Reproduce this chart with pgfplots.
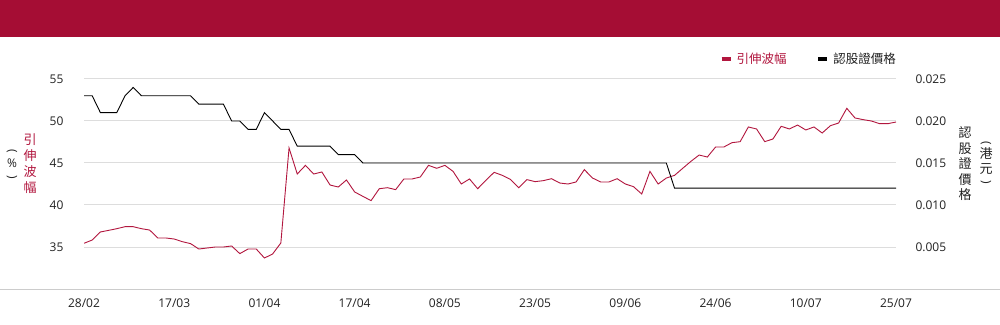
\documentclass[border=0pt]{standalone}
\usepackage{pgfplots}
\pgfplotsset{compat=1.18}
\usepackage{fontspec}
\setmainfont{Open Sans}
\newfontfamily\cjk{Noto Sans CJK TC}
\definecolor{banner}{RGB}{165,13,52}
\definecolor{vol}{RGB}{178,22,62}
\definecolor{gridc}{RGB}{221,221,221}
\definecolor{axisc}{RGB}{204,204,204}
\definecolor{txt}{RGB}{34,34,34}
\newcommand{\vopen}{\rotatebox[origin=c]{-90}{\rmfamily(}}
\newcommand{\vclose}{\rotatebox[origin=c]{-90}{\rmfamily)}}
\begin{document}
\begin{tikzpicture}
\useasboundingbox (0pt,0pt) rectangle (1000pt,324pt);
\fill[white] (0pt,0pt) rectangle (1000pt,324pt);
\fill[banner] (0pt,287pt) rectangle (1000pt,324pt);
\begin{axis}[
  at={(84pt,35pt)}, anchor=south west, scale only axis,
  width=812pt, height=210pt,
  xmin=0, xmax=99, ymin=30, ymax=55,
  axis line style={draw=none}, major tick length=0pt,
  xtick={0,11,...,99},
  xticklabels={28/02,17/03,01/04,17/04,08/05,23/05,09/06,24/06,10/07,25/07},
  ytick={35,40,45,50,55},
  ymajorgrids, grid style={gridc, line width=1pt},
  tick label style={font=\fontsize{12}{14}\selectfont, text=txt},
  /pgf/number format/assume math mode=true,
  xticklabel style={yshift=-6pt},
  yticklabel style={xshift=-17pt},
]
\addplot[vol, line width=0.9pt] coordinates {
(0,35.44) (1,35.83) (2,36.79) (3,36.98) (4,37.18) (5,37.42) (6,37.42) (7,37.18) (8,37.02) (9,36.07)
(10,36.07) (11,35.95) (12,35.63) (13,35.40) (14,34.76) (15,34.88) (16,35.00) (17,35.00) (18,35.12) (19,34.21)
(20,34.76) (21,34.76) (22,33.69) (23,34.17) (24,35.48) (25,46.79) (26,43.69) (27,44.72) (28,43.69) (29,43.93)
(30,42.38) (31,42.14) (32,42.98) (33,41.55) (34,41.03) (35,40.52) (36,41.94) (37,42.06) (38,41.83) (39,43.10)
(40,43.10) (41,43.33) (42,44.72) (43,44.37) (44,44.72) (45,44.00) (46,42.50) (47,43.10) (48,41.94) (49,42.94)
(50,43.89) (51,43.53) (52,43.04) (53,42.06) (54,43.02) (55,42.78) (56,42.90) (57,43.13) (58,42.62) (59,42.50)
(60,42.74) (61,44.21) (62,43.21) (63,42.74) (64,42.74) (65,43.13) (66,42.50) (67,42.18) (68,41.31) (69,44.00)
(70,42.50) (71,43.21) (72,43.53) (73,44.37) (74,45.20) (75,45.95) (76,45.71) (77,46.90) (78,46.90) (79,47.42)
(80,47.54) (81,49.29) (82,49.05) (83,47.54) (84,47.86) (85,49.37) (86,49.05) (87,49.52) (88,48.93) (89,49.29)
(90,48.57) (91,49.44) (92,49.76) (93,51.51) (94,50.36) (95,50.16) (96,50.00) (97,49.68) (98,49.68) (99,49.88)
};
\end{axis}
\begin{axis}[
  at={(84pt,35pt)}, anchor=south west, scale only axis,
  width=812pt, height=210pt,
  xmin=0, xmax=99, ymin=0, ymax=0.025,
  axis line style={draw=none}, major tick length=0pt,
  xtick=\empty,
  ytick={0.005,0.01,0.015,0.02,0.025},
  yticklabel pos=right,
  scaled y ticks=false,
  yticklabel style={/pgf/number format/.cd, fixed, fixed zerofill, precision=3, /tikz/.cd, xshift=16pt},
  tick label style={font=\fontsize{12}{14}\selectfont, text=txt},
  /pgf/number format/assume math mode=true,
  legend columns=2,
  legend style={draw=none, fill=none, at={(1,1)}, anchor=south east, yshift=12pt, xshift=2pt,
    font=\cjk\fontsize{12.5}{14}\selectfont, inner sep=0pt,
    /tikz/every even column/.append style={column sep=28pt}},
  legend image code/.code={\draw[#1, line width=3.5pt] (0pt,0pt) -- (9pt,0pt); \path[draw=none] (0pt,0pt) -- (13pt,0pt);},
]
\addlegendimage{vol}
\addlegendentry{\textcolor{vol}{引伸波幅}}
\addplot[black, line width=0.9pt] coordinates {
(0,0.023) (1,0.023) (2,0.021) (3,0.021) (4,0.021) (5,0.023) (6,0.024) (7,0.023) (8,0.023) (9,0.023)
(10,0.023) (11,0.023) (12,0.023) (13,0.023) (14,0.022) (15,0.022) (16,0.022) (17,0.022) (18,0.020) (19,0.020)
(20,0.019) (21,0.019) (22,0.021) (23,0.020) (24,0.019) (25,0.019) (26,0.017) (27,0.017) (28,0.017) (29,0.017)
(30,0.017) (31,0.016) (32,0.016) (33,0.016) (34,0.015) (35,0.015) (36,0.015) (37,0.015) (38,0.015) (39,0.015)
(40,0.015) (41,0.015) (42,0.015) (43,0.015) (44,0.015) (45,0.015) (46,0.015) (47,0.015) (48,0.015) (49,0.015)
(50,0.015) (51,0.015) (52,0.015) (53,0.015) (54,0.015) (55,0.015) (56,0.015) (57,0.015) (58,0.015) (59,0.015)
(60,0.015) (61,0.015) (62,0.015) (63,0.015) (64,0.015) (65,0.015) (66,0.015) (67,0.015) (68,0.015) (69,0.015)
(70,0.015) (71,0.015) (72,0.012) (73,0.012) (74,0.012) (75,0.012) (76,0.012) (77,0.012) (78,0.012) (79,0.012)
(80,0.012) (81,0.012) (82,0.012) (83,0.012) (84,0.012) (85,0.012) (86,0.012) (87,0.012) (88,0.012) (89,0.012)
(90,0.012) (91,0.012) (92,0.012) (93,0.012) (94,0.012) (95,0.012) (96,0.012) (97,0.012) (98,0.012) (99,0.012)
};
\addlegendentry{\textcolor{txt}{認股證價格}}
\end{axis}
\draw[axisc, line width=1pt] (0pt,35pt) -- (1000pt,35pt);
\node[text=vol, font=\cjk\fontsize{13}{16}\selectfont, align=center, inner sep=0pt] at (30pt,160pt) {引\\伸\\波\\幅};
\node[text=txt, font=\fontsize{12}{13}\selectfont, align=center, inner sep=0pt] at (12pt,159pt) {\vopen\\\%\\\vclose};
\node[text=txt, font=\cjk\fontsize{13}{15.5}\selectfont, align=center, inner sep=0pt] at (965pt,160pt) {認\\股\\證\\價\\格};
\node[text=txt, font=\cjk\fontsize{13}{15}\selectfont, align=center, inner sep=0pt] at (986pt,160.5pt) {{\fontsize{12}{13}\selectfont\vopen}\\[-3pt]港\\元\\[-3pt]{\fontsize{12}{13}\selectfont\vclose}};
\end{tikzpicture}
\end{document}
